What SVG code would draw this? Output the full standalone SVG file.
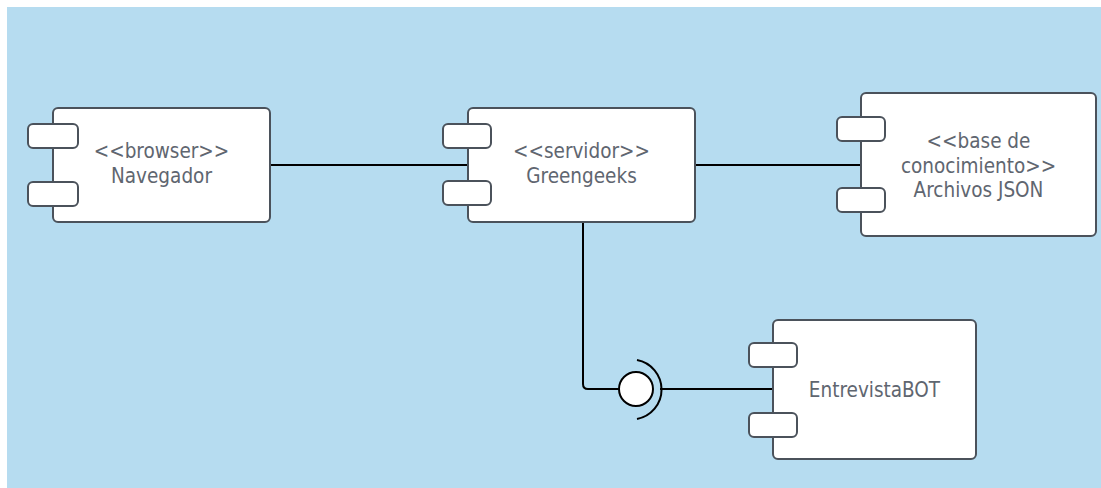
<svg xmlns="http://www.w3.org/2000/svg" width="1101" height="488" viewBox="0 0 1101 488">
<style>
.body{fill:#ffffff;stroke:#4b525b;stroke-width:2}
.port{fill:#ffffff;stroke:#4b525b;stroke-width:2}
.lbl{font-family:"DejaVu Sans Condensed","DejaVu Sans",sans-serif;font-stretch:condensed;font-size:20.5px;fill:#5f6670;text-anchor:middle}
.wire{fill:none;stroke:#000000;stroke-width:2}
</style>
<rect x="7" y="7" width="1094" height="481" fill="#b6dcf0"/>
<g id="connectors">
<line class="wire" x1="270" y1="165" x2="476" y2="165"/>
<line class="wire" x1="695" y1="165" x2="861" y2="165"/>
<path class="wire" d="M583,222 V384 Q583,389 588,389 H619"/>
<line class="wire" x1="660" y1="389" x2="778" y2="389"/>
<path class="wire" d="M637,360 A30,30 0 0 1 637,419"/>
<circle cx="636" cy="389" r="17" fill="#ffffff" stroke="#000000" stroke-width="2"/>
</g>
<g id="navegador">
<rect class="body" x="53" y="108" width="217" height="114" rx="5"/>
<rect class="port" x="28" y="124" width="50" height="24" rx="5"/>
<rect class="port" x="28" y="182" width="50" height="24" rx="5"/>
<text class="lbl" x="161.5" y="158">&lt;&lt;browser&gt;&gt;</text>
<text class="lbl" x="161.5" y="183">Navegador</text>
</g>
<g id="greengeeks">
<rect class="body" x="468" y="108" width="227" height="114" rx="5"/>
<rect class="port" x="443" y="124" width="48" height="24" rx="5"/>
<rect class="port" x="443" y="181" width="48" height="24" rx="5"/>
<text class="lbl" x="581.5" y="158">&lt;&lt;servidor&gt;&gt;</text>
<text class="lbl" x="581.5" y="183">Greengeeks</text>
</g>
<g id="archivos">
<rect class="body" x="861" y="93" width="235" height="143" rx="5"/>
<rect class="port" x="837" y="117" width="48" height="24" rx="5"/>
<rect class="port" x="837" y="188" width="48" height="24" rx="5"/>
<text class="lbl" x="978.5" y="147.5">&lt;&lt;base de</text>
<text class="lbl" x="978.5" y="172.5">conocimiento&gt;&gt;</text>
<text class="lbl" x="978.5" y="197">Archivos JSON</text>
</g>
<g id="entrevistabot">
<rect class="body" x="773" y="320" width="203" height="139" rx="5"/>
<rect class="port" x="749" y="343" width="48" height="24" rx="5"/>
<rect class="port" x="749" y="413" width="48" height="24" rx="5"/>
<text class="lbl" x="874.5" y="397">EntrevistaBOT</text>
</g>
</svg>
